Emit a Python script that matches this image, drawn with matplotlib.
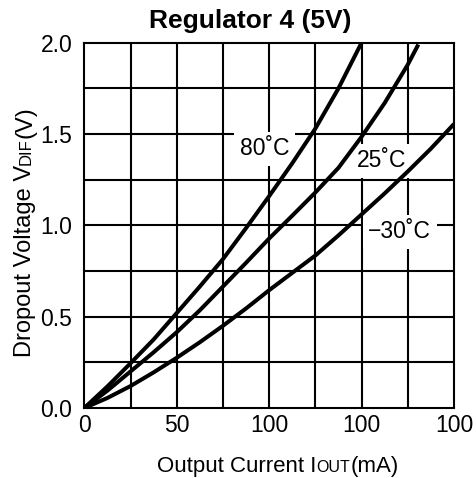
import matplotlib
matplotlib.use("Agg")
import matplotlib.pyplot as plt
from matplotlib.transforms import IdentityTransform

plt.rcParams['font.family'] = ['Liberation Sans', 'DejaVu Sans']

# curves (mA, V)
i_80 = [0, 12.5, 25, 37.5, 50, 62.5, 75, 87.5, 100, 112.5, 125, 137.5, 150]
v_80 = [0, 0.118, 0.245, 0.375, 0.52, 0.665, 0.815, 0.985, 1.16, 1.34, 1.53, 1.75, 2.0]
i_25 = [0, 12.5, 25, 37.5, 50, 62.5, 75, 87.5, 100, 112.5, 125, 137.5, 150, 162.5, 175, 180.7]
v_25 = [0, 0.095, 0.2, 0.305, 0.415, 0.535, 0.665, 0.795, 0.928, 1.053, 1.18, 1.315,
        1.485, 1.67, 1.88, 1.99]
i_m30 = [0, 12.5, 25, 37.5, 50, 62.5, 75, 87.5, 100, 112.5, 125, 137.5, 150, 162.5, 175,
         187.5, 200]
v_m30 = [0, 0.055, 0.12, 0.195, 0.275, 0.36, 0.45, 0.545, 0.645, 0.74, 0.835, 0.945, 1.06,
         1.175, 1.295, 1.42, 1.555]

curve_labels = ['80˚C', '25˚C', '−30˚C']
label_pos = [(97.6, 1.385), (160.9, 1.318), (170.6, 0.93)]

xticks = [0, 50, 100, 150, 200]
xticklabels = ['0', '50', '100', '100', '100']
yticks = [0, 0.5, 1.0, 1.5, 2.0]
yticklabels = ['0.0', '0.5', '1.0', '1.5', '2.0']

fig = plt.figure(figsize=(4.76, 4.78), dpi=100)
ax = fig.add_axes([84.3 / 476, 70 / 478, 369.7 / 476, 365.3 / 478])

for xs, ys in [(i_80, v_80), (i_25, v_25), (i_m30, v_m30)]:
    ax.plot(xs, ys, color='black', lw=2.9, solid_capstyle='butt', zorder=3)

# white boxes sit over the grid but under the curves
for txt, (x, y) in zip(curve_labels, label_pos):
    ax.text(x, y, txt, fontsize=16.5, ha='center', va='baseline', zorder=2,
            bbox=dict(facecolor='white', edgecolor='none', pad=4))

ax.set_xlim(0, 200)
ax.set_ylim(0, 2.0)
for k in range(1, 8):
    ax.axvline(25 * k, color='black', lw=1.5, zorder=1)
    ax.axhline(0.25 * k, color='black', lw=1.5, zorder=1)
for s in ax.spines.values():
    s.set_linewidth(1.5)

ax.set_xticks(xticks)
ax.set_xticklabels(xticklabels)
ax.set_yticks(yticks)
ax.set_yticklabels(yticklabels)
ax.tick_params(length=0, labelsize=16.5)
ax.tick_params(axis='x', pad=4.5)
ax.tick_params(axis='y', pad=8.5)

fig.text(250, 478 - 27.7, 'Regulator 4 (5V)', fontsize=19, fontweight='bold',
         ha='center', va='baseline', transform=IdentityTransform())

# labels with small-caps style subscripts kept on the baseline
renderer = fig.canvas.get_renderer()


def multi_label(parts, cx, cy, rotation=0):
    widths = []
    for s, fs in parts:
        t = fig.text(0, 0, s, fontsize=fs, transform=IdentityTransform())
        widths.append(t.get_window_extent(renderer).width)
        t.remove()
    total = sum(widths)
    pos = (cx if rotation == 0 else cy) - total / 2
    for (s, fs), w in zip(parts, widths):
        if rotation == 0:
            fig.text(pos, cy, s, fontsize=fs, ha='left', va='baseline',
                     transform=IdentityTransform())
        else:
            fig.text(cx, pos, s, fontsize=fs, ha='left', va='baseline',
                     rotation=90, rotation_mode='anchor', transform=IdentityTransform())
        pos += w


multi_label([('Output Current I', 16), ('OUT', 11.5), ('(mA)', 16)], 278, 6)
multi_label([('Dropout Voltage V', 17), ('DIF', 12), ('(V)', 17)], 31, 478 - 231.5, rotation=90)

fig.savefig('out.png', dpi=100)
